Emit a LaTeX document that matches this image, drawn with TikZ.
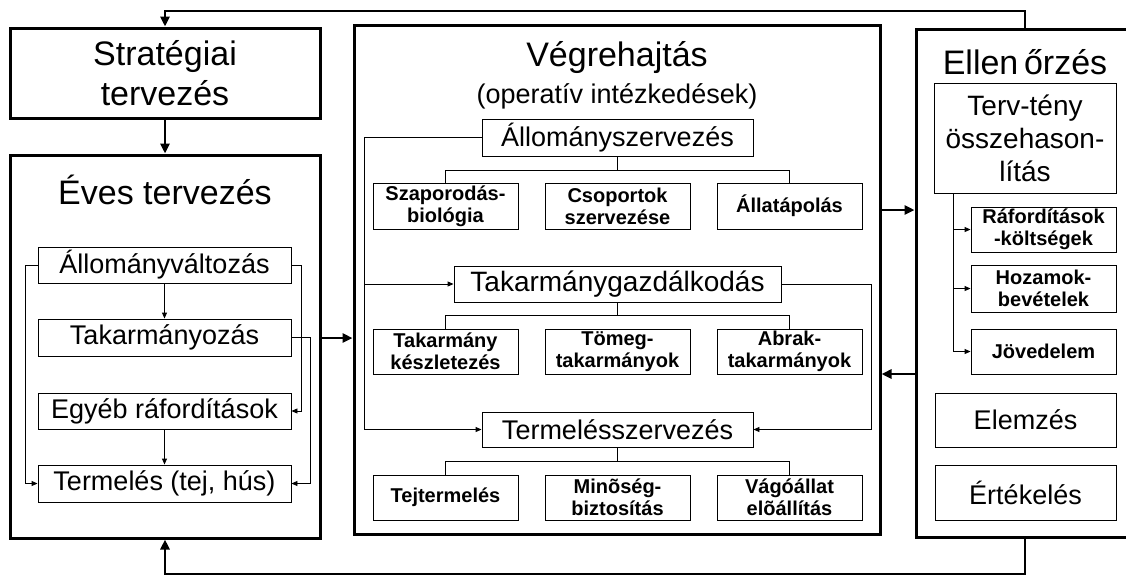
\documentclass[tikz,border=0pt]{standalone}
\usepackage{fontspec}
\setmainfont{Liberation Sans}
\usetikzlibrary{arrows.meta,calc}
\begin{document}
\begin{tikzpicture}[x=1pt,y=-1pt,
  bigbox/.style={draw,line width=3pt,inner sep=0pt},
  thinbox/.style={draw,line width=0.9pt,inner sep=0pt,align=center},
  title/.style={font=\fontsize{34}{40}\selectfont,align=center,inner sep=0pt},
  midbox/.style={thinbox,font=\fontsize{27}{33}\selectfont},
  smallbox/.style={thinbox,font=\bfseries\fontsize{20}{22}\selectfont},
  thin/.style={line width=0.9pt},
  thinarrow/.style={thin,-{Triangle[length=6pt,width=5pt]}},
  thickarrow/.style={line width=2.6pt,-{Triangle[length=10pt,width=9pt]}},
]
\useasboundingbox (0,0) rectangle (1126,574);

% ---- planning column
\node[bigbox,title,minimum width=310,minimum height=90] (strat) at (165,73) {Stratégiai\\tervezés};
\node[bigbox,minimum width=310,minimum height=383] (eves) at (165,346.5) {};
\node[title] (evest) at (165,190) {Éves tervezés};
\node[midbox,minimum width=253,minimum height=36] (allv) at (164.5,265) {Állományváltozás};
\node[midbox,minimum width=253,minimum height=37] (takoz) at (164.5,337.5) {Takarmányozás};
\node[midbox,minimum width=253,minimum height=36] (egyeb) at (164.5,411) {Egyéb ráfordítások};
\node[midbox,minimum width=253,minimum height=37] (term) at (164.5,483.5) {Termelés (tej, hús)};

% ---- execution column
\node[bigbox,minimum width=526,minimum height=509] (vegre) at (617,279.5) {};
\node[title] (vegret) at (617,58) {Végrehajtás};
\node[inner sep=0pt,font=\fontsize{27}{31}\selectfont] (vegres) at (617,96) {(operatív intézkedések)};

\node[midbox,minimum width=271,minimum height=37] (allsz) at (617.5,137.5) {Állományszervezés};
\node[smallbox,minimum width=145,minimum height=46] (szap) at (445.5,206) {Szaporodás-\\biológia};
\node[smallbox,minimum width=145,minimum height=46] (csop) at (617.5,206) {Csoportok\\szervezése};
\node[smallbox,minimum width=145,minimum height=46] (apol) at (789.5,206) {Állatápolás};

\node[midbox,minimum width=327,minimum height=36,font=\fontsize{28}{33}\selectfont] (takg) at (617.5,284) {Takarmánygazdálkodás};
\node[smallbox,minimum width=145,minimum height=45] (kesz) at (445.5,351.5) {Takarmány\\készletezés};
\node[smallbox,minimum width=145,minimum height=45] (tomeg) at (617.5,351.5) {Tömeg-\\takarmányok};
\node[smallbox,minimum width=145,minimum height=45] (abrak) at (789.5,351.5) {Abrak-\\takarmányok};

\node[midbox,minimum width=271,minimum height=35] (termsz) at (617.5,429.5) {Termelésszervezés};
\node[smallbox,minimum width=145,minimum height=45] (tej) at (445.5,497.5) {Tejtermelés};
\node[smallbox,minimum width=145,minimum height=45] (minos) at (617.5,497.5) {Minõség-\\biztosítás};
\node[smallbox,minimum width=145,minimum height=45] (vago) at (789.5,497.5) {Vágóállat\\elõállítás};

% ---- control column
\node[bigbox,minimum width=220,minimum height=508] (ellen) at (1026,283) {};
\node[title] (ellent) at (1025,62) {Ellen\,őrzés};
\node[midbox,minimum width=182,minimum height=110,font=\fontsize{28}{33}\selectfont] (tt) at (1025,138) {Terv-tény\\összehason-\\lítás};
\node[smallbox,minimum width=145,minimum height=45] (rk) at (1043.5,229.5) {Ráfordítások\\-költségek};
\node[smallbox,minimum width=145,minimum height=47] (hb) at (1043.5,288.5) {Hozamok-\\bevételek};
\node[smallbox,minimum width=145,minimum height=45] (jo) at (1043.5,351.5) {Jövedelem};
\node[midbox,minimum width=181,minimum height=54] (elem) at (1025.5,420) {Elemzés};
\node[midbox,minimum width=181,minimum height=55] (ert) at (1025.5,492.5) {Értékelés};

% ---- helper coordinates for routed connectors
\coordinate (topx) at (1025,11);
\coordinate (botx) at (1025,574);
\coordinate (a1) at (0,338);
\coordinate (a2) at (0,210);
\coordinate (a3) at (0,374);
\coordinate (l1) at (25,0);
\coordinate (l2) at (301,0);
\coordinate (l3) at (310,0);
\coordinate (lx) at (364,0);
\coordinate (rx) at (871,0);
\coordinate (b1) at (0,170);
\coordinate (b2) at (0,315);
\coordinate (b3) at (0,461);
\coordinate (vx) at (953,0);

% ---- main flow between columns
\draw[thickarrow] (strat.south) -- (eves.north);
\draw[thickarrow] (eves.east |- a1) -- (vegre.west |- a1);
\draw[thickarrow] (vegre.east |- a2) -- (ellen.west |- a2);
\draw[thickarrow] (ellen.west |- a3) -- (vegre.east |- a3);
\draw[thickarrow] (ellen.north -| topx) -- (topx) -| (strat.north);
\draw[thickarrow] (ellen.south -| botx) -- (botx) -| (eves.south);

% ---- annual planning links
\draw[thinarrow] (allv.south) -- (takoz.north);
\draw[thinarrow] (egyeb.south) -- (term.north);
\draw[thinarrow] (allv.west) -| (l1 |- term.west) -- (term.west);
\draw[thinarrow] (allv.east) -| (l2 |- egyeb.east) -- (egyeb.east);
\draw[thinarrow] (takoz.east) -| (l3 |- term.east) -- (term.east);

% ---- execution links
\draw[thin] (allsz.south) -- (allsz.south |- b1);
\draw[thin] (szap.north) |- (apol.north |- b1) -- (apol.north);
\draw[thin] (takg.south) -- (takg.south |- b2);
\draw[thin] (kesz.north) |- (abrak.north |- b2) -- (abrak.north);
\draw[thin] (termsz.south) -- (termsz.south |- b3);
\draw[thin] (tej.north) |- (vago.north |- b3) -- (vago.north);
\draw[thinarrow] (allsz.west) -| (lx |- termsz.west) -- (termsz.west);
\draw[thinarrow] (lx |- takg.west) -- (takg.west);
\draw[thinarrow] (takg.east) -| (rx |- termsz.east) -- (termsz.east);

% ---- control links
\draw[thin] (tt.south -| vx) -- (vx |- jo.west);
\draw[thinarrow] (vx |- rk.west) -- (rk.west);
\draw[thinarrow] (vx |- hb.west) -- (hb.west);
\draw[thinarrow] (vx |- jo.west) -- (jo.west);
\end{tikzpicture}
\end{document}
